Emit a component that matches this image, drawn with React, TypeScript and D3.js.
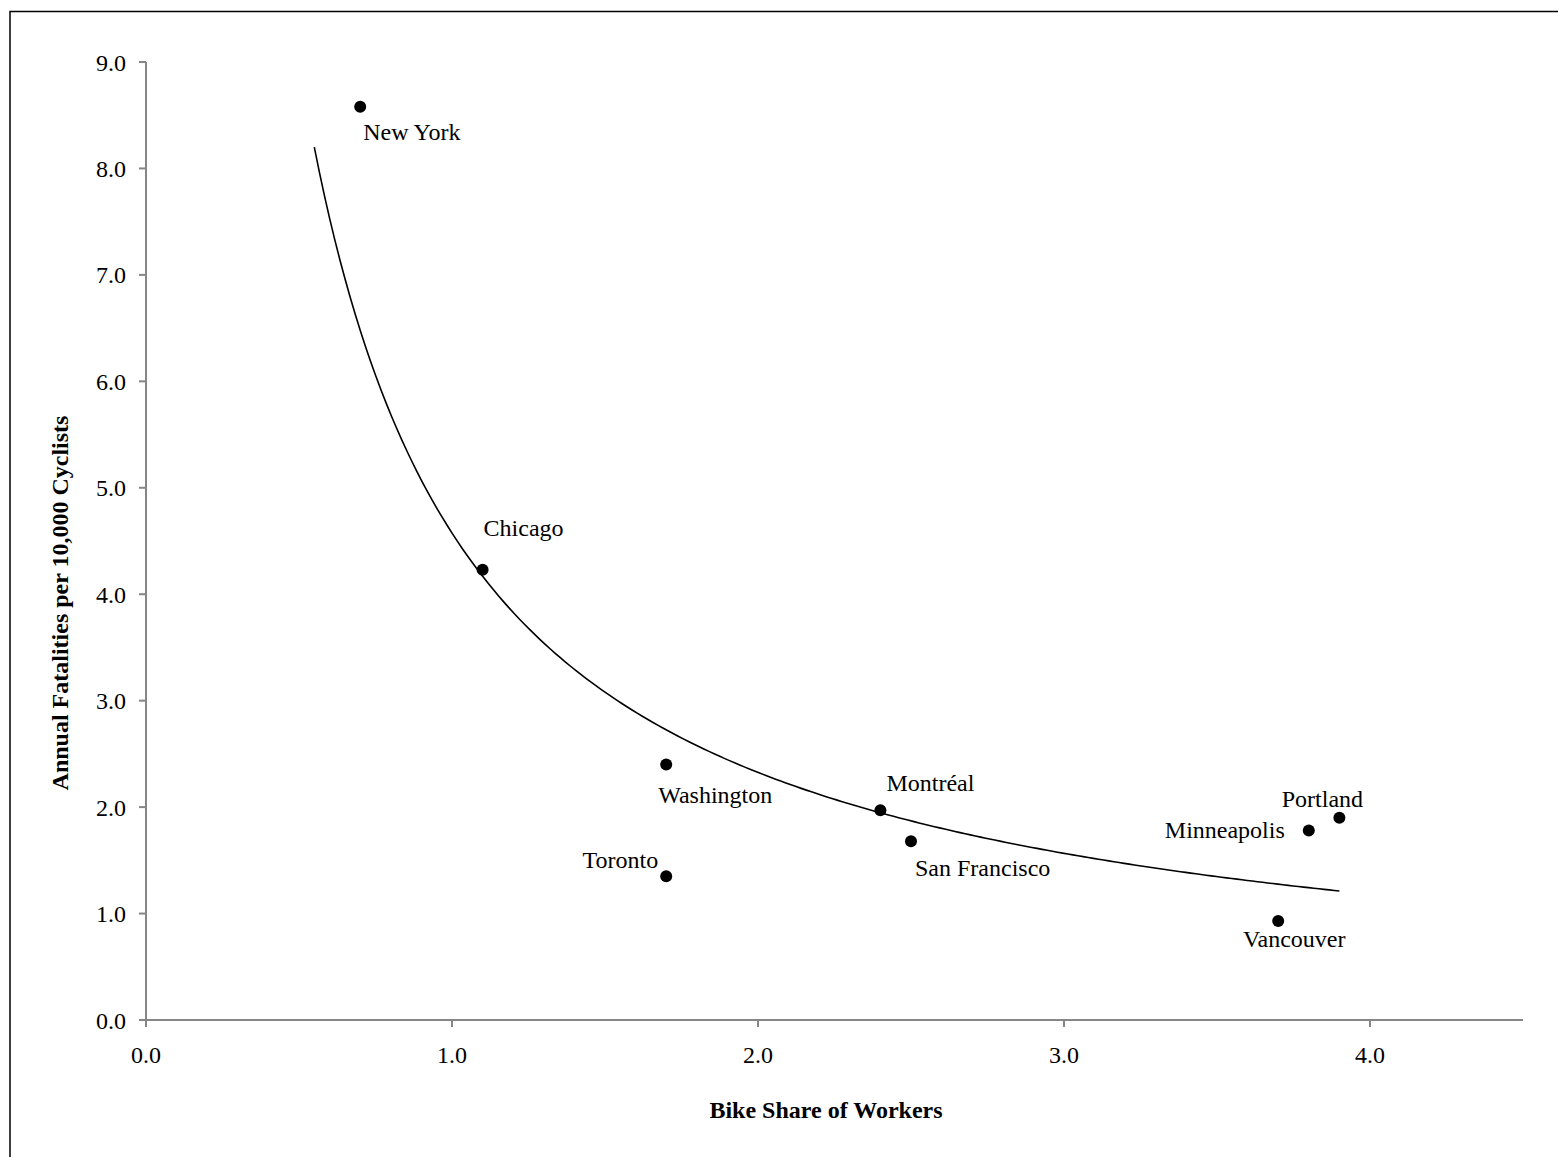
import React from "react";
import * as d3 from "d3";

const cities = ["New York", "Chicago", "Washington", "Toronto", "Montréal", "San Francisco", "Vancouver", "Minneapolis", "Portland"];
const bikeShare = [0.7, 1.1, 1.7, 1.7, 2.4, 2.5, 3.7, 3.8, 3.9];
const fatalities = [8.58, 4.23, 2.40, 1.35, 1.97, 1.68, 0.93, 1.78, 1.90];
const xTicks = [0, 1, 2, 3, 4];
const yTicks = [0, 1, 2, 3, 4, 5, 6, 7, 8, 9];
// power trendline y = a * x^b
const trendA = 4.575;
const trendB = -0.976;
const trendRange = [0.55, 3.9];

// label placements (dx, dy, anchor)
const labelPlace: Record<string, [number, number, string]> = {
  "New York": [3, 33, "start"],
  Chicago: [1, -34, "start"],
  Washington: [-8, 38, "start"],
  Toronto: [-8, -8, "end"],
  "Montréal": [6, -19, "start"],
  "San Francisco": [4, 35, "start"],
  Vancouver: [16, 26, "middle"],
  Minneapolis: [-24, 7, "end"],
  Portland: [-17, -11, "middle"],
};

const W = 1558;
const H = 1157;
const font = "'Liberation Serif', 'Times New Roman', serif";

export default function App() {
  const x = d3.scaleLinear().domain([0, 4.5]).range([146, 1523]);
  const y = d3.scaleLinear().domain([0, 9]).range([1020, 62]);
  const axisColor = "#868686";

  const trendPts: [number, number][] = d3
    .range(0, 201)
    .map((i) => {
      const xv = trendRange[0] + ((trendRange[1] - trendRange[0]) * i) / 200;
      return [xv, trendA * Math.pow(xv, trendB)];
    });
  const line = d3
    .line<[number, number]>()
    .x((d) => x(d[0]))
    .y((d) => y(d[1]));

  return (
    <svg
      width={W}
      height={H}
      style={{ position: "absolute", left: 0, top: 0, background: "#fff" }}
      fontFamily={font}
    >
      <rect x={10} y={11.5} width={1560} height={1160} fill="#fff" stroke="#000" strokeWidth={1.5} />
      {/* axes */}
      <line x1={x(0)} x2={x(0)} y1={y(9)} y2={y(0)} stroke={axisColor} strokeWidth={2} />
      <line x1={x(0)} x2={x(4.5)} y1={y(0)} y2={y(0)} stroke={axisColor} strokeWidth={2} />
      {yTicks.map((t) => (
        <g key={"y" + t}>
          <line x1={x(0) - 7} x2={x(0)} y1={y(t)} y2={y(t)} stroke={axisColor} strokeWidth={2} />
          <text x={x(0) - 20} y={y(t) + 8.5} textAnchor="end" fontSize={24} fill="#000">
            {t.toFixed(1)}
          </text>
        </g>
      ))}
      {xTicks.map((t) => (
        <g key={"x" + t}>
          <line x1={x(t)} x2={x(t)} y1={y(0)} y2={y(0) + 7} stroke={axisColor} strokeWidth={2} />
          <text x={x(t)} y={1063} textAnchor="middle" fontSize={24} fill="#000">
            {t.toFixed(1)}
          </text>
        </g>
      ))}
      {/* trendline */}
      <path d={line(trendPts) || ""} fill="none" stroke="#000" strokeWidth={1.6} />
      {/* points */}
      {cities.map((c, i) => {
        const px = x(bikeShare[i]);
        const py = y(fatalities[i]);
        const [dx, dy, anchor] = labelPlace[c];
        return (
          <g key={c}>
            <circle cx={px} cy={py} r={6} fill="#000" />
            <text x={px + dx} y={py + dy} textAnchor={anchor as any} fontSize={24} fill="#000">
              {c}
            </text>
          </g>
        );
      })}
      {/* axis titles */}
      <text x={826} y={1118} textAnchor="middle" fontSize={24} fontWeight="bold" fill="#000">
        Bike Share of Workers
      </text>
      <text
        transform={`translate(68, 603) rotate(-90)`}
        textAnchor="middle"
        fontSize={24}
        fontWeight="bold"
        fill="#000"
      >
        Annual Fatalities per 10,000 Cyclists
      </text>
    </svg>
  );
}
